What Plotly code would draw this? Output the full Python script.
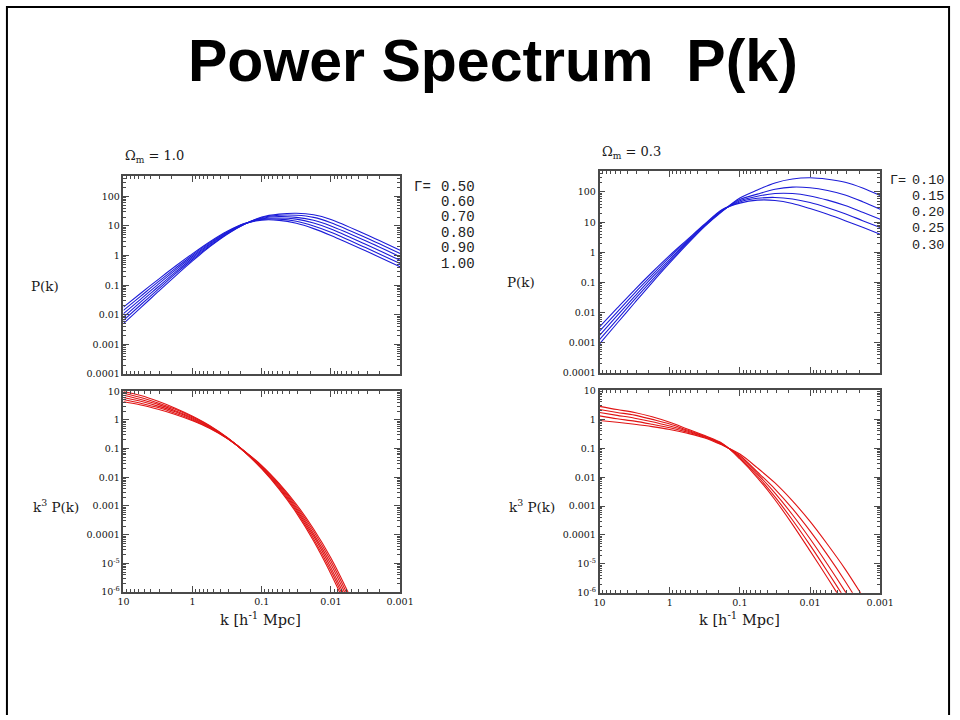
import plotly.graph_objects as go

# ---------------- data ----------------
# k grids [h^-1 Mpc]
K_TOP_LEFT = [10, 5.62, 3.16, 1.78, 1.0, 0.562, 0.316, 0.178, 0.1, 0.0562, 0.0316, 0.0178, 0.01, 0.00316, 0.001]
K_BOT_LEFT = [10, 5.62, 3.16, 1.78, 1.0, 0.562, 0.316, 0.178, 0.1, 0.0562, 0.0316, 0.0178, 0.01, 0.00562, 0.00316]
K_TOP_RIGHT = [10, 5.62, 3.16, 1.78, 1.0, 0.562, 0.316, 0.178, 0.1, 0.0562, 0.0316, 0.0178, 0.01,
               0.00562, 0.00316, 0.00178, 0.001]
K_BOT_RIGHT = [10, 5.62, 3.16, 1.78, 1.0, 0.562, 0.316, 0.178, 0.1, 0.0562, 0.0316, 0.0178, 0.01,
               0.00562, 0.00316, 0.00178]

GAMMA_LEFT = ["0.50", "0.60", "0.70", "0.80", "0.90", "1.00"]
GAMMA_RIGHT = ["0.10", "0.15", "0.20", "0.25", "0.30"]

# Omega_m = 1.0 : P(k)
P_OM10_G050 = [0.00501, 0.0174, 0.0603, 0.204, 0.661, 2.00, 5.25, 11.5, 20.0, 25.1, 26.9, 24.0, 16.6, 5.25, 1.51]
P_OM10_G060 = [0.00646, 0.0219, 0.0724, 0.240, 0.741, 2.14, 5.50, 11.5, 19.1, 22.9, 22.9, 19.5, 12.9, 4.07, 1.17]
P_OM10_G070 = [0.00832, 0.0275, 0.0871, 0.275, 0.832, 2.34, 5.75, 11.7, 18.2, 20.9, 19.5, 15.5, 10.0, 3.16, 0.912]
P_OM10_G080 = [0.0110, 0.0339, 0.107, 0.324, 0.933, 2.51, 6.03, 11.7, 17.4, 18.6, 17.0, 12.6, 7.94, 2.40, 0.692]
P_OM10_G090 = [0.0141, 0.0427, 0.129, 0.372, 1.05, 2.75, 6.31, 12.0, 16.6, 17.0, 14.5, 10.0, 6.17, 1.86, 0.537]
P_OM10_G100 = [0.0182, 0.0537, 0.155, 0.437, 1.17, 2.95, 6.61, 12.0, 15.8, 15.5, 12.3, 8.13, 4.79, 1.45, 0.417]

# Omega_m = 1.0 : k^3 P(k)
K3P_OM10_G050 = [4.27, 3.31, 2.34, 1.55, 0.933, 0.501, 0.224, 0.0813, 0.0257, 0.00617, 0.00115, 1.58e-4, 1.55e-5, 9.55e-7, 4.17e-8]
K3P_OM10_G060 = [5.13, 3.80, 2.69, 1.70, 1.00, 0.525, 0.229, 0.0813, 0.0245, 0.00562, 0.00100, 1.32e-4, 1.20e-5, 7.08e-7, 2.95e-8]
K3P_OM10_G070 = [6.03, 4.47, 3.02, 1.91, 1.07, 0.550, 0.234, 0.0794, 0.0229, 0.00513, 8.71e-4, 1.07e-4, 9.33e-6, 5.25e-7, 2.09e-8]
K3P_OM10_G080 = [7.24, 5.13, 3.47, 2.09, 1.17, 0.575, 0.234, 0.0794, 0.0219, 0.00468, 7.59e-4, 8.91e-5, 7.08e-6, 3.89e-7, 1.48e-8]
K3P_OM10_G090 = [8.51, 6.03, 3.89, 2.34, 1.26, 0.603, 0.240, 0.0776, 0.0204, 0.00427, 6.61e-4, 7.24e-5, 5.50e-6, 2.88e-7, 1.05e-8]
K3P_OM10_G100 = [9.77, 7.08, 4.47, 2.57, 1.35, 0.631, 0.245, 0.0776, 0.0195, 0.00389, 5.75e-4, 6.03e-5, 4.27e-6, 2.14e-7, 7.41e-9]

# Omega_m = 0.3 : P(k)
P_OM03_G010 = [9.33e-4, 0.00447, 0.0214, 0.100, 0.447, 1.86, 7.24, 22.9, 63.1, 117, 200, 269, 295, 263, 209, 135, 75.9]
P_OM03_G015 = [0.00129, 0.00589, 0.0275, 0.120, 0.513, 2.04, 7.59, 23.7, 56.2, 85.1, 123, 145, 138, 112, 79.4, 47.9, 26.9]
P_OM03_G020 = [0.00178, 0.00794, 0.0347, 0.148, 0.589, 2.24, 7.94, 24.5, 51.3, 72.4, 89.1, 89.1, 74.1, 53.7, 35.5, 21.4, 12.6]
P_OM03_G025 = [0.00245, 0.0105, 0.0447, 0.178, 0.692, 2.40, 8.32, 25.4, 46.8, 61.7, 66.1, 58.9, 44.7, 30.2, 19.1, 11.2, 6.61]
P_OM03_G030 = [0.00339, 0.0141, 0.0575, 0.219, 0.794, 2.63, 8.71, 26.3, 42.7, 53.7, 52.5, 41.7, 28.2, 18.2, 11.2, 6.76, 3.98]

# Omega_m = 0.3 : k^3 P(k)
K3P_OM03_G010 = [0.912, 0.794, 0.676, 0.562, 0.447, 0.331, 0.229, 0.129, 0.0631, 0.0209, 0.00631, 0.00151, 2.95e-4, 4.68e-5, 6.61e-6, 7.59e-7]
K3P_OM03_G015 = [1.32, 1.05, 0.871, 0.676, 0.513, 0.363, 0.240, 0.133, 0.0562, 0.0151, 0.00389, 8.13e-4, 1.38e-4, 2.00e-5, 2.51e-6, 2.69e-7]
K3P_OM03_G020 = [1.74, 1.38, 1.10, 0.832, 0.589, 0.398, 0.251, 0.138, 0.0513, 0.0129, 0.00282, 5.01e-4, 7.41e-5, 9.55e-6, 1.12e-6, 1.20e-7]
K3P_OM03_G025 = [2.19, 1.74, 1.41, 1.00, 0.692, 0.427, 0.263, 0.143, 0.0468, 0.0110, 0.00209, 3.31e-4, 4.47e-5, 5.37e-6, 6.03e-7, 6.3e-8]
K3P_OM03_G030 = [2.82, 2.19, 1.74, 1.23, 0.794, 0.468, 0.275, 0.148, 0.0427, 0.00955, 0.00166, 2.34e-4, 2.82e-5, 3.24e-6, 3.55e-7, 4.0e-8]

TOP_Y_TICKS = [1e-4, 1e-3, 1e-2, 0.1, 1, 10, 100]
TOP_Y_TEXT = ["0.0001", "0.001", "0.01", "0.1", "1", "10", "100"]
BOT_Y_TICKS = [1e-6, 1e-5, 1e-4, 1e-3, 1e-2, 0.1, 1, 10]
BOT_Y_TEXT = ["10<sup>-6</sup>", "10<sup>-5</sup>", "0.0001", "0.001", "0.01", "0.1", "1", "10"]
X_TICKS = [10, 1, 0.1, 0.01, 0.001]
X_TEXT = ["10", "1", "0.1", "0.01", "0.001"]

# ---------------- figure ----------------
# Observed page mapping: screen_px = S * (figure_px + OFF)
S = 0.977
OFF = 8
W, H = 964, 720
BLUE = "#1c1cd8"
RED = "#e01414"
FRAME = "#4a4a4a"
SERIF = "DejaVu Serif"
MONO = "Liberation Mono"


def fx(p):
    return (p / S - OFF) / W


def fy(p):
    return 1 - (p / S - OFF) / H


def minor_vals(e0, e1):
    vals = []
    for e in range(e0, e1 + 1):
        for m in range(2, 10):
            vals.append(m * 10.0 ** e)
    return vals


fig = go.Figure()

panels = [
    ("x", "y", K_TOP_LEFT, [P_OM10_G050, P_OM10_G060, P_OM10_G070, P_OM10_G080, P_OM10_G090, P_OM10_G100], BLUE),
    ("x2", "y2", K_BOT_LEFT, [K3P_OM10_G050, K3P_OM10_G060, K3P_OM10_G070, K3P_OM10_G080, K3P_OM10_G090, K3P_OM10_G100], RED),
    ("x3", "y3", K_TOP_RIGHT, [P_OM03_G010, P_OM03_G015, P_OM03_G020, P_OM03_G025, P_OM03_G030], BLUE),
    ("x4", "y4", K_BOT_RIGHT, [K3P_OM03_G010, K3P_OM03_G015, K3P_OM03_G020, K3P_OM03_G025, K3P_OM03_G030], RED),
]
for xa, ya, ks, series, col in panels:
    for s in series:
        fig.add_trace(go.Scatter(x=ks, y=s, xaxis=xa, yaxis=ya, mode="lines",
                                 line=dict(color=col, width=1.1, shape="spline", smoothing=0.9),
                                 showlegend=False, hoverinfo="skip"))


def axis_common(minor):
    return dict(type="log", showline=True, linecolor=FRAME, linewidth=1.5, mirror="allticks",
                ticks="inside", ticklen=6, tickwidth=1, tickcolor=FRAME,
                showgrid=False, zeroline=False,
                tickfont=dict(family=SERIF, size=9.5, color="#111111"),
                minor=dict(ticks="inside", ticklen=3, tickwidth=1, tickcolor=FRAME,
                           tickmode="array", tickvals=minor, showgrid=False))


XMIN = minor_vals(-3, 0)
YTMIN = minor_vals(-4, 2)
YBMIN = minor_vals(-6, 0)

LX = [fx(125), fx(401)]
RX = [fx(600), fx(880)]

lay = {}
lay["xaxis"] = dict(axis_common(XMIN), domain=LX, anchor="y", range=[1, -3],
                    tickmode="array", tickvals=X_TICKS, ticktext=X_TEXT, showticklabels=False)
lay["yaxis"] = dict(axis_common(YTMIN), domain=[fy(373), fy(176.7)], anchor="x", range=[-4, 2.68],
                    tickmode="array", tickvals=TOP_Y_TICKS, ticktext=TOP_Y_TEXT)
lay["xaxis2"] = dict(axis_common(XMIN), domain=LX, anchor="y2", range=[1, -3],
                     tickmode="array", tickvals=X_TICKS, ticktext=X_TEXT)
lay["yaxis2"] = dict(axis_common(YBMIN), domain=[fy(589.3), fy(390)], anchor="x2", range=[-6, 1],
                     tickmode="array", tickvals=BOT_Y_TICKS, ticktext=BOT_Y_TEXT)
lay["xaxis3"] = dict(axis_common(XMIN), domain=RX, anchor="y3", range=[1, -3],
                     tickmode="array", tickvals=X_TICKS, ticktext=X_TEXT, showticklabels=False)
lay["yaxis3"] = dict(axis_common(YTMIN), domain=[fy(372), fy(171.7)], anchor="x3", range=[-4, 2.69],
                     tickmode="array", tickvals=TOP_Y_TICKS, ticktext=TOP_Y_TEXT)
lay["xaxis4"] = dict(axis_common(XMIN), domain=RX, anchor="y4", range=[1, -3],
                     tickmode="array", tickvals=X_TICKS, ticktext=X_TEXT)
lay["yaxis4"] = dict(axis_common(YBMIN), domain=[fy(590), fy(389.3)], anchor="x4", range=[-6, 1],
                     tickmode="array", tickvals=BOT_Y_TICKS, ticktext=BOT_Y_TEXT)

ann = []


def text(x, y, s, size=12, xanchor="center", family=SERIF, color="#1a1a1a", weight="normal"):
    ann.append(dict(x=fx(x), y=fy(y), xref="paper", yref="paper", text=s, showarrow=False,
                    xanchor=xanchor, yanchor="middle",
                    font=dict(family=family, size=size, color=color, weight=weight)))


# title
text(494, 62, "Power Spectrum  P(k)", size=59, family="Liberation Sans, Arial", color="#000000", weight="bold")

# panel headers
text(125, 157, "Ω<sub>m</sub> = 1.0", size=13, xanchor="left")
text(600, 153, "Ω<sub>m</sub> = 0.3", size=13, xanchor="left")

# y-axis titles
text(47, 286, "P(k)", size=13.5)
text(522, 282, "P(k)", size=13.5)
text(58, 504, "k<sup>3</sup> P(k)", size=13.5)
text(533, 504, "k<sup>3</sup> P(k)", size=13.5)

# x-axis titles
text(262, 616, "k [h<sup>-1</sup> Mpc]", size=14.5)
text(740, 616, "k [h<sup>-1</sup> Mpc]", size=14.5)

# Gamma legends
text(413, 187, "Γ=", size=14, xanchor="left", family=MONO, color="#222222")
for i, g in enumerate(GAMMA_LEFT):
    text(440, 187 + 15.3 * i, g, size=14, xanchor="left", family=MONO, color="#222222")
text(888, 181, "Γ=", size=13.5, xanchor="left", family=MONO, color="#222222")
for i, g in enumerate(GAMMA_RIGHT):
    text(910, 181 + 16 * i, g, size=13.5, xanchor="left", family=MONO, color="#222222")

# slide border (top, left, right)
shapes = [
    dict(type="line", xref="paper", yref="paper", x0=0.001, x1=0.001, y0=0, y1=1, line=dict(color="black", width=2)),
    dict(type="line", xref="paper", yref="paper", x0=0, x1=1, y0=0.9985, y1=0.9985, line=dict(color="black", width=2)),
    dict(type="line", xref="paper", yref="paper", x0=0.999, x1=0.999, y0=0, y1=1, line=dict(color="black", width=2)),
]

fig.update_layout(width=W, height=H, autosize=False, margin=dict(l=0, r=0, t=0, b=0),
                  paper_bgcolor="white", plot_bgcolor="white", annotations=ann, shapes=shapes,
                  showlegend=False, **lay)

fig.write_html("out.html")
